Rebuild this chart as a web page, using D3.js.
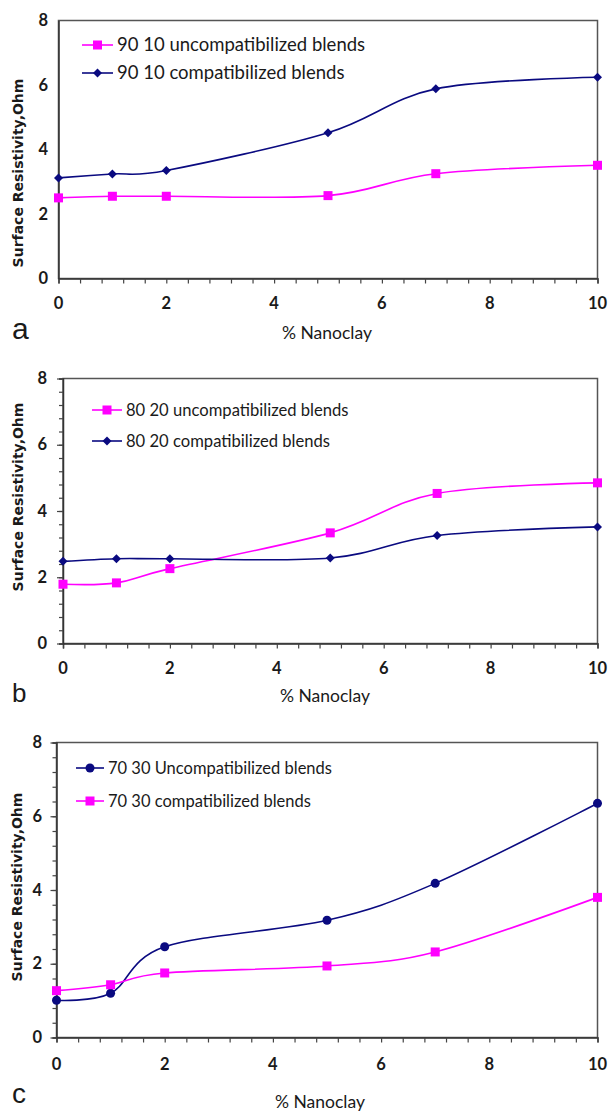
<!DOCTYPE html>
<html lang="en">
<head>
<meta charset="UTF-8">
<title>chart</title>
<style>
  body { margin: 0; background: #fff; }
  text { fill: #1a1a1a; }
</style>
</head>
<body>
<script src="https://d3js.org/d3.v7.min.js"></script>
<script>
// data
const nanoclay = [0, 1, 2, 5, 7, 10];
const xTicks = [0, 2, 4, 6, 8, 10];
const yTicks = [0, 2, 4, 6, 8];

const aUncomp = [2.50, 2.55, 2.55, 2.57, 3.25, 3.51];
const aComp = [3.12, 3.24, 3.35, 4.52, 5.88, 6.24];
const bUncomp = [1.79, 1.83, 2.26, 3.34, 4.53, 4.85];
const bComp = [2.48, 2.56, 2.56, 2.58, 3.26, 3.52];
const cUncomp = [1.01, 1.20, 2.46, 3.18, 4.18, 6.35];
const cComp = [1.27, 1.43, 1.75, 1.94, 2.32, 3.80];

const aNames = ['90 10 uncompatibilized blends', '90 10 compatibilized blends'];
const bNames = ['80 20 uncompatibilized blends', '80 20 compatibilized blends'];
const cNames = ['70 30 Uncompatibilized blends', '70 30 compatibilized blends'];

const PINK = '#ff00ff';
const NAVY = '#0a0a80';

const svg = d3.select('body').append('svg')
  .attr('width', 610)
  .attr('height', 1111);

// layout of the three panels
const panels = [
  {
    letter: 'a', left: 58.5, right: 597.5, top: 20.5, bottom: 278.5, yMinor: false,
    series: [
      { name: aNames[0], values: aUncomp, color: PINK, marker: 'square' },
      { name: aNames[1], values: aComp, color: NAVY, marker: 'diamond' }
    ],
    legend: { x0: 82, x1: 113, y: [45, 73], size: 18.5 },
    yLabelRight: 48, xLabelY: 309, letterY: 339, letterSize: 30,
    titleX: 18, titleY: 173, xTitleX: 327, xTitleY: 339
  },
  {
    letter: 'b', left: 63, right: 597.5, top: 378.5, bottom: 643.5, yMinor: true,
    series: [
      { name: bNames[0], values: bUncomp, color: PINK, marker: 'square' },
      { name: bNames[1], values: bComp, color: NAVY, marker: 'diamond' }
    ],
    legend: { x0: 92, x1: 122, y: [410, 441], size: 16.6 },
    yLabelRight: 47, xLabelY: 674, letterY: 702, letterSize: 26,
    titleX: 18, titleY: 497, xTitleX: 325, xTitleY: 702
  },
  {
    letter: 'c', left: 56.5, right: 597.5, top: 742.5, bottom: 1037.5, yMinor: true,
    series: [
      { name: cNames[0], values: cUncomp, color: NAVY, marker: 'circle' },
      { name: cNames[1], values: cComp, color: PINK, marker: 'square' }
    ],
    legend: { x0: 76, x1: 104, y: [768, 801], size: 16.5 },
    yLabelRight: 42, xLabelY: 1070, letterY: 1103, letterSize: 28,
    titleX: 17, titleY: 887, xTitleX: 320, xTitleY: 1108
  }
];

function drawMarker(g, type, cx, cy, color) {
  if (type === 'square') {
    g.append('rect')
      .attr('x', cx - 4.5).attr('y', cy - 4.5)
      .attr('width', 9).attr('height', 9)
      .attr('fill', color);
  } else if (type === 'diamond') {
    g.append('path')
      .attr('d', `M${cx},${cy - 4.5}L${cx + 4.5},${cy}L${cx},${cy + 4.5}L${cx - 4.5},${cy}Z`)
      .attr('fill', color);
  } else {
    g.append('circle')
      .attr('cx', cx).attr('cy', cy).attr('r', 4.5)
      .attr('fill', color);
  }
}

panels.forEach(p => {
  const g = svg.append('g');

  const x = d3.scaleLinear().domain([0, 10]).range([p.left, p.right]);
  const y = d3.scaleLinear().domain([0, 8]).range([p.bottom, p.top]);

  // frame
  g.append('rect')
    .attr('x', p.left).attr('y', p.top)
    .attr('width', p.right - p.left).attr('height', p.bottom - p.top)
    .attr('fill', 'none')
    .attr('stroke', '#555')
    .attr('stroke-width', 1.5);

  // x axis: small ticks every 0.4
  const xMinor = d3.range(0, 10.001, 0.4);
  const xAxis = g.append('g')
    .attr('transform', `translate(0,${p.bottom})`)
    .call(d3.axisBottom(x).tickValues(xMinor).tickSize(5).tickFormat(''));
  xAxis.select('.domain').attr('stroke', '#333').attr('stroke-width', 1.5);
  xAxis.selectAll('.tick line').attr('stroke', '#444').attr('stroke-width', 1.2);

  g.selectAll('.xlab')
    .data(xTicks)
    .join('text')
    .attr('x', d => x(d))
    .attr('y', p.xLabelY)
    .attr('text-anchor', 'middle')
    .attr('font-family', 'Lato, "Open Sans", sans-serif')
    .attr('font-weight', 'bold')
    .attr('font-size', 16.5)
    .text(d => d);

  // y axis
  const yAxis = g.append('g')
    .attr('transform', `translate(${p.left},0)`);
  if (p.yMinor) {
    yAxis.call(d3.axisLeft(y).tickValues(d3.range(0, 8.001, 0.4)).tickSize(4).tickFormat(''));
    yAxis.selectAll('.tick line').attr('stroke', '#444').attr('stroke-width', 1.2);
    g.append('g')
      .attr('transform', `translate(${p.left},0)`)
      .call(d3.axisLeft(y).tickValues(yTicks).tickSize(6).tickFormat(''))
      .call(s => s.select('.domain').remove())
      .selectAll('.tick line').attr('stroke', '#444').attr('stroke-width', 1.2);
  } else {
    yAxis.call(d3.axisLeft(y).tickValues(yTicks).tickSize(0).tickFormat(''));
  }
  yAxis.select('.domain').attr('stroke', '#333').attr('stroke-width', 1.5);

  g.selectAll('.ylab')
    .data(yTicks)
    .join('text')
    .attr('x', p.yLabelRight)
    .attr('y', d => y(d) + 5.5)
    .attr('text-anchor', 'end')
    .attr('font-family', 'Lato, "Open Sans", sans-serif')
    .attr('font-weight', 'bold')
    .attr('font-size', 16.5)
    .text(d => d);

  // axis titles
  g.append('text')
    .attr('transform', `translate(${p.titleX + 5},${p.titleY}) rotate(-90)`)
    .attr('text-anchor', 'middle')
    .attr('font-family', '"DejaVu Sans", Verdana, sans-serif')
    .attr('font-size', 14)
    .attr('font-weight', 600)
    .text('Surface Resistivity,Ohm');

  g.append('text')
    .attr('x', p.xTitleX)
    .attr('y', p.xTitleY)
    .attr('text-anchor', 'middle')
    .attr('font-family', 'Lato, "Open Sans", sans-serif')
    .attr('font-size', 17.5)
    .text('% Nanoclay');

  g.append('text')
    .attr('x', 12)
    .attr('y', p.letterY)
    .attr('font-family', '"Liberation Sans", Arial, sans-serif')
    .attr('font-size', p.letterSize)
    .text(p.letter);

  // series
  const line = d3.line()
    .x((d, i) => x(nanoclay[i]))
    .y(d => y(d))
    .curve(d3.curveCardinal.tension(0));

  p.series.forEach(s => {
    g.append('path')
      .datum(s.values)
      .attr('d', line)
      .attr('fill', 'none')
      .attr('stroke', s.color)
      .attr('stroke-width', 1.6);
    s.values.forEach((v, i) => drawMarker(g, s.marker, x(nanoclay[i]), y(v), s.color));
  });

  // legend
  p.series.forEach((s, i) => {
    const ly = p.legend.y[i];
    g.append('line')
      .attr('x1', p.legend.x0).attr('x2', p.legend.x1)
      .attr('y1', ly).attr('y2', ly)
      .attr('stroke', s.color)
      .attr('stroke-width', 1.6);
    drawMarker(g, s.marker, (p.legend.x0 + p.legend.x1) / 2, ly, s.color);
    g.append('text')
      .attr('x', p.legend.x1 + 4)
      .attr('y', ly + 6)
      .attr('font-family', 'Lato, "Open Sans", sans-serif')
      .attr('font-size', p.legend.size)
      .text(s.name);
  });
});
</script>
</body>
</html>
